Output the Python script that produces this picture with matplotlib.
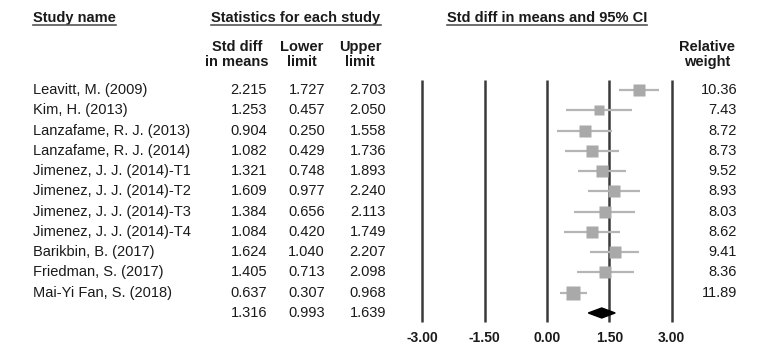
import numpy as np
import matplotlib
matplotlib.use("Agg")
import matplotlib.pyplot as plt
from matplotlib.transforms import blended_transform_factory
from matplotlib.patches import Polygon
from matplotlib.lines import Line2D

plt.rcParams["font.family"] = ["Liberation Sans", "DejaVu Sans"]

# data
studies = ["Leavitt, M. (2009)", "Kim, H. (2013)", "Lanzafame, R. J. (2013)",
           "Lanzafame, R. J. (2014)", "Jimenez, J. J. (2014)-T1",
           "Jimenez, J. J. (2014)-T2", "Jimenez, J. J. (2014)-T3",
           "Jimenez, J. J. (2014)-T4", "Barikbin, B. (2017)",
           "Friedman, S. (2017)", "Mai-Yi Fan, S. (2018)"]
smd = [2.215, 1.253, 0.904, 1.082, 1.321, 1.609, 1.384, 1.084, 1.624, 1.405, 0.637]
lower = [1.727, 0.457, 0.250, 0.429, 0.748, 0.977, 0.656, 0.420, 1.040, 0.713, 0.307]
upper = [2.703, 2.050, 1.558, 1.736, 1.893, 2.240, 2.113, 1.749, 2.207, 2.098, 0.968]
weight = [10.36, 7.43, 8.72, 8.73, 9.52, 8.93, 8.03, 8.62, 9.41, 8.36, 11.89]
pooled = [1.316, 0.993, 1.639]
ticks = [-3.00, -1.50, 0.00, 1.50, 3.00]

W, H = 768, 354
fig = plt.figure(figsize=(W / 100, H / 100), dpi=100)
fig.set_facecolor("white")

# forest axes: x in effect units, y in row units (row 0 at 90 px, 20.27 px apart)
row_h = 20.27
left_px, right_px = 401.4, 692.6
ax = fig.add_axes([left_px / W, 0, (right_px - left_px) / W, 1])
ax.set_xlim(-3.5, 3.5)
ax.set_ylim((H - 90) / row_h, -90 / row_h)
ax.axis("off")

txt = "#1a1a1a"
fs = 10.5
tr = blended_transform_factory(fig.transFigure, ax.transData)

def row_of(px):
    return (px - 90) / row_h

# vertical reference lines
ax.vlines(ticks, row_of(80), row_of(322), color="#3a3a3a", lw=1.8)
for t in ticks:
    ax.text(t, row_of(338), f"{t:.2f}", ha="center", va="center",
            fontsize=fs - 0.5, fontweight="bold", color=txt)

# studies
rows = np.arange(len(studies))
ax.hlines(rows, lower, upper, color="#b5b5b5", lw=1.6, zorder=2)
for r, m, w in zip(rows, smd, weight):
    side = 4.0 * np.sqrt(w)
    ax.plot(m, r, marker="s", ms=side * 0.72, color="#a9a9a9", mec="none", zorder=3)

# pooled diamond
pr = len(studies)
dh = 5 / row_h
ax.add_patch(Polygon([[pooled[1], pr], [pooled[0], pr - dh], [pooled[2], pr], [pooled[0], pr + dh]],
                     closed=True, color="black", zorder=4))

# table text
for r, name in enumerate(studies + [""]):
    ax.text(33 / W, r, name, transform=tr, ha="left", va="center", fontsize=fs, color=txt)
cols = list(zip(smd, lower, upper)) + [tuple(pooled)]
for r, vals in enumerate(cols):
    for xr, v in zip([267, 325, 386], vals):
        ax.text(xr / W, r, f"{v:.3f}", transform=tr, ha="right", va="center", fontsize=fs, color=txt)
for r, w in enumerate(weight):
    ax.text(737 / W, r, f"{w:.2f}", transform=tr, ha="right", va="center", fontsize=fs, color=txt)

# headers
top = row_of(18)
for xc, label, ha in [(33, "Study name", "left"), (296, "Statistics for each study", "center"),
                      (547, "Std diff in means and 95% CI", "center")]:
    t = ax.text(xc / W, top, label, transform=tr, ha=ha, va="center",
                fontsize=fs, fontweight="bold", color=txt)
    fig.canvas.draw()
    bb = t.get_window_extent()
    fig.add_artist(Line2D([bb.x0 / W, bb.x1 / W], [(H - 25) / H] * 2, color="#555555", lw=1.2))

sub = row_of(54.5)
for xc, label in [(237, "Std diff\nin means"), (302, "Lower\nlimit"),
                  (360, "Upper\nlimit"), (707, "Relative\nweight")]:
    ax.text(xc / W, sub, label, transform=tr, ha="center", va="center",
            fontsize=fs, fontweight="bold", color=txt, linespacing=1.15)

fig.savefig("out.png", dpi=100, facecolor="white")
